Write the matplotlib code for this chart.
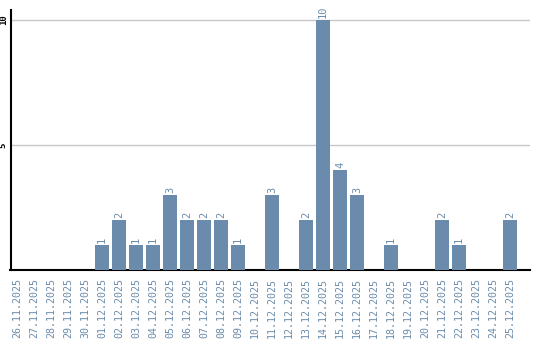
import matplotlib
matplotlib.use("Agg")
import matplotlib.pyplot as plt

dates = ["26.11.2025", "27.11.2025", "28.11.2025", "29.11.2025", "30.11.2025",
         "01.12.2025", "02.12.2025", "03.12.2025", "04.12.2025", "05.12.2025",
         "06.12.2025", "07.12.2025", "08.12.2025", "09.12.2025", "10.12.2025",
         "11.12.2025", "12.12.2025", "13.12.2025", "14.12.2025", "15.12.2025",
         "16.12.2025", "17.12.2025", "18.12.2025", "19.12.2025", "20.12.2025",
         "21.12.2025", "22.12.2025", "23.12.2025", "24.12.2025", "25.12.2025"]
counts = [0, 0, 0, 0, 0,
          1, 2, 1, 1, 3,
          2, 2, 2, 1, 0,
          3, 0, 2, 10, 4,
          3, 0, 1, 0, 0,
          2, 1, 0, 0, 2]
yticks = [5, 10]

bar_color = "#6a8bab"
text_color = "#6a8bab"
font = "DejaVu Sans Mono"

fig = plt.figure(figsize=(5.4, 3.4), dpi=100)
ax = fig.add_axes([10.5 / 540, 70 / 340, 519.5 / 540, 260 / 340])

x = list(range(len(dates)))
ax.bar(x, counts, width=0.81, color=bar_color, zorder=3)
for xi, v in zip(x, counts):
    if v > 0:
        ax.text(xi, v + 0.08, str(v), rotation=90, ha="center", va="bottom",
                color=text_color, fontsize=7.5, family=font)

ax.set_xlim(-0.38, 30.18)
ax.set_ylim(0, 10.4)
ax.set_yticks(yticks)
ax.set_yticklabels([str(t) for t in yticks], rotation=90, va="center",
                   family=font, fontsize=6.5, color="black", fontweight="bold")
ax.yaxis.grid(True, color="#c8c8c8", linewidth=1, zorder=0)
ax.set_xticks(x)
ax.set_xticklabels(dates, rotation=90, family=font, fontsize=7.2, color=text_color)
ax.tick_params(axis="x", length=0, pad=6)
ax.tick_params(axis="y", length=0, pad=2)

for s in ["top", "right"]:
    ax.spines[s].set_visible(False)
ax.spines["left"].set_color("black")
ax.spines["bottom"].set_color("black")
ax.spines["left"].set_linewidth(1.5)
ax.spines["bottom"].set_linewidth(1.5)

fig.savefig("out.png", dpi=100)
